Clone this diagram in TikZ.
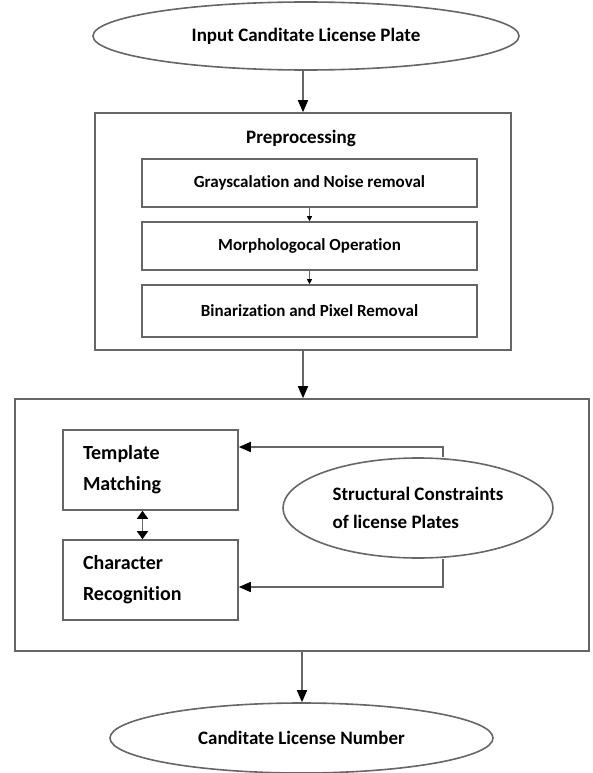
\documentclass[tikz,border=0pt]{standalone}
\usepackage{fontspec}
\setmainfont{Carlito}[Ligatures=NoCommon]
\usetikzlibrary{shapes.geometric, arrows.meta}

\begin{document}
\begin{tikzpicture}[x=1pt, y=-1pt,
        line/.style={draw=black!60, line width=1.6pt},
        oval/.style={ellipse, line, inner sep=0pt, font=\fontsize{19}{28}\selectfont\bfseries},
        box/.style={rectangle, line, inner sep=0pt},
        stage/.style={box, minimum width=335pt, font=\fontsize{17}{20}\selectfont\bfseries},
        unit/.style={box, minimum width=175pt, minimum height=80pt, text width=135pt, align=left, font=\fontsize{20}{31}\selectfont\bfseries},
        arr/.style={line, -{Triangle[length=12pt, width=10pt, color=black]}},
        tiny/.style={line, line width=1pt, -{Triangle[length=5pt, width=5pt, color=black]}},
        dbl/.style={line, {Triangle[length=8pt, width=11pt, color=black]}-{Triangle[length=8pt, width=11pt, color=black]}}]

        \useasboundingbox (0,0) rectangle (592,773);

        \node[oval, minimum width=426pt, minimum height=68pt] (input) at (306,36) {Input Canditate License Plate};

        % preprocessing
        \node[box, minimum width=416pt, minimum height=237pt] (pre) at (303,231.5) {};
        \node[font=\fontsize{19}{23}\selectfont\bfseries] (pretitle) at (301,138) {Preprocessing};
        \node[stage, minimum height=48pt] (gray) at (309.5,183) {Grayscalation and Noise removal};
        \node[stage, minimum height=48pt] (morph) at (309.5,246) {Morphologocal Operation};
        \node[stage, minimum height=52pt] (binar) at (309.5,311) {Binarization and Pixel Removal};
        \draw[tiny] (gray) -- (morph);
        \draw[tiny] (morph) -- (binar);

        % recognition
        \node[box, minimum width=574pt, minimum height=252pt] (proc) at (302,525) {};
        \node[unit] (templ) at (150.5,470) {Template\\Matching};
        \node[unit] (charrec) at (150.5,580) {Character\\Recognition};
        \node[oval, minimum width=270pt, minimum height=100pt, align=left] (constr) at (418,508) {Structural Constraints\\of license Plates};
        \draw[dbl] ([xshift=-8pt]templ.south) -- ([xshift=-8pt]charrec.north);
        \draw[arr] ([xshift=25pt]constr.north) |- ([yshift=23pt]templ.east);
        \draw[arr] ([xshift=25pt]constr.south) |- ([yshift=-7pt]charrec.east);

        \node[oval, minimum width=383pt, minimum height=70pt] (output) at (301.5,738) {Canditate License Number};

        \draw[arr] (pre.north |- input.south) -- (pre.north);
        \draw[arr] (pre.south) -- (pre.south |- proc.north);
        \draw[arr] (proc.south) -- (proc.south |- output.north);
\end{tikzpicture}
\end{document}
